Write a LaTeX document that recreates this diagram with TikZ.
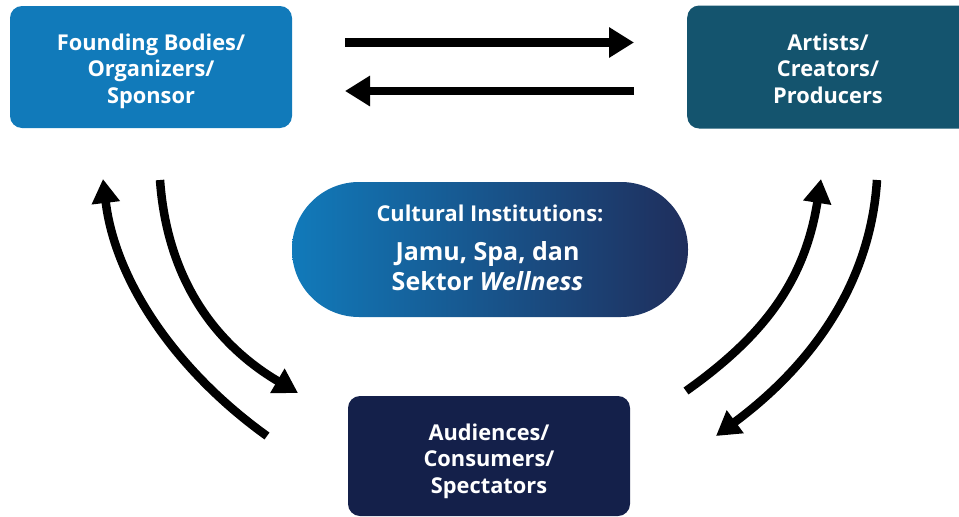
\documentclass[tikz,border=0pt]{standalone}
\usepackage{fontspec}
\setmainfont{Open Sans}
\usetikzlibrary{arrows.meta}
\definecolor{cfound}{RGB}{17,122,186}
\definecolor{cart}{RGB}{20,84,110}
\definecolor{caud}{RGB}{20,32,74}
\definecolor{cpillL}{RGB}{17,122,186}
\definecolor{cpillR}{RGB}{31,46,92}
\tikzset{
  actorbox/.style={rectangle, rounded corners=12pt, inner sep=0pt},
  actortext/.style={text=white, align=center, inner sep=0pt,
    font=\bfseries\fontsize{21.8}{26.5}\selectfont},
  flowarrow/.style={line width=8.5pt, -{Triangle[length=25pt,width=29pt]}},
  curvearrow/.style={line width=8.5pt, -{Triangle[length=24pt,width=27pt]}},
}
\begin{document}
\begin{tikzpicture}[x=1pt,y=-1pt]
\path[use as bounding box, clip] (0,0) rectangle (959,517);
% boxes
\node[actorbox, fill=cfound, minimum width=282pt, minimum height=122pt] (found) at (151,67) {};
\node[actortext] (foundtext) at (151,71.5) {\strut Founding Bodies/\\\strut Organizers/\\\strut Sponsor};
\node[actorbox, fill=cart, minimum width=290pt, minimum height=123pt, anchor=west] (art) at (687,67) {};
\node[actortext] (arttext) at (828,71.5) {\strut Artists/\\\strut Creators/\\\strut Producers};
\node[actorbox, fill=caud, minimum width=282pt, minimum height=120pt] (aud) at (489,456) {};
\node[actortext] (audtext) at (489,461.5) {\strut Audiences/\\\strut Consumers/\\\strut Spectators};
% pill
\node[rectangle, rounded corners=67pt, left color=cpillL, right color=cpillR,
  minimum width=396pt, minimum height=135pt, inner sep=0pt] (pill) at (490,249.5) {};
\node[text=white, inner sep=0pt, font=\bfseries\fontsize{21.8}{24}\selectfont] (pill1) at (490,217) {\strut Cultural Institutions:};
\node[text=white, align=center, inner sep=0pt, font=\bfseries\fontsize{25}{29.5}\selectfont] (pill2) at (487.5,269.5) {\strut Jamu, Spa, dan\\\strut Sektor \textit{Wellness}};
% horizontal arrow ends
\coordinate (h1s) at (345,42.5);
\coordinate (h1e) at (634,42.5);
\coordinate (h2s) at (634,91);
\coordinate (h2e) at (345,91);
\draw[flowarrow] (h1s) -- (h1e);
\draw[flowarrow] (h2s) -- (h2e);
% left curved arrows
\coordinate (la1) at (267,436);
\coordinate (la2) at (103,179);
\coordinate (lb1) at (160,180);
\coordinate (lb2) at (298,393);
\draw[curvearrow] (la1) .. controls (175,370) and (115,280) .. (la2);
\draw[curvearrow] (lb1) .. controls (168,290) and (225,350) .. (lb2);
% right curved arrows
\coordinate (rc1) at (686,391);
\coordinate (rc2) at (821,179);
\coordinate (rd1) at (877,180);
\coordinate (rd2) at (716,436);
\draw[curvearrow] (rc1) .. controls (765,335) and (805,280) .. (rc2);
\draw[curvearrow] (rd1) .. controls (870,290) and (805,370) .. (rd2);
\end{tikzpicture}
\end{document}
